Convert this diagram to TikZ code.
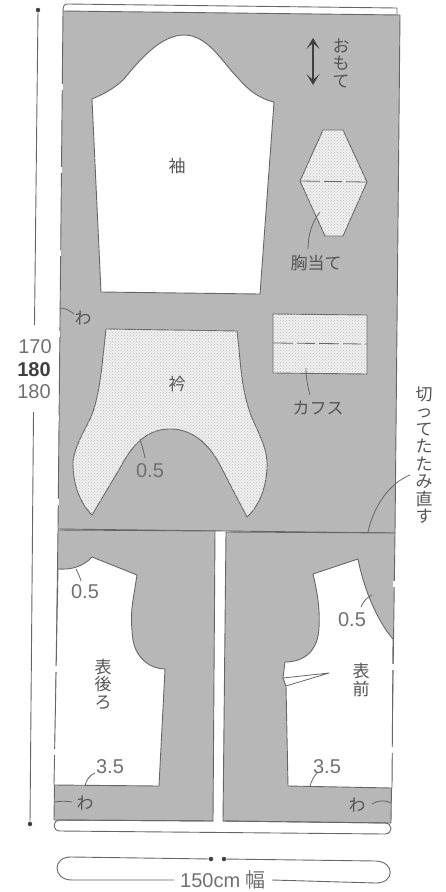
\documentclass[tikz,border=0pt]{standalone}
\usepackage{fontspec}
\setmainfont{Liberation Sans}
\newfontfamily\cjk{Noto Sans CJK JP}
\usetikzlibrary{arrows.meta,patterns}
\definecolor{sheet}{HTML}{B7B7B7}
\definecolor{ink}{HTML}{666666}
\definecolor{txt}{HTML}{555555}
\definecolor{numtxt}{HTML}{707070}
\definecolor{dotbg}{HTML}{EFEFEF}
\definecolor{dotfg}{HTML}{BDBDBD}
\tikzset{
  outline/.style={draw=ink,line width=0.9pt,line join=round},
  panel/.style={outline,fill=sheet},
  cutpiece/.style={outline,fill=white},
  dotpiece/.style={outline,fill=dotbg,postaction={pattern=crosshatch dots,pattern color=dotfg}},
  foldgap/.style={draw=white,line width=1.6pt},
  leader/.style={draw=ink,line width=0.8pt},
  dim/.style={draw=ink,line width=0.9pt},
  dimdot/.style={fill=black!75,circle,inner sep=0pt,minimum size=4.5pt},
  num/.style={text=numtxt,font=\fontsize{20}{22}\selectfont,inner sep=0pt},
  jp/.style={text=txt,font=\cjk\fontsize{17}{17.5}\selectfont,inner sep=0pt,align=center},
  foldline/.style={draw=ink,line width=0.8pt,dash pattern=on 20pt off 4pt on 18pt off 4pt},
}
\begin{document}
\begin{tikzpicture}[x=1pt,y=-1pt]
\useasboundingbox (0,0) rectangle (446,892);
% top band
\draw[outline,fill=white] (63,11) .. controls (63,6) and (64,4) .. (68,4) -- (397,8) -- (397,15);
% upper sheet
\path[panel] (63,11) -- (400,15) -- (395,533) -- (58,529) -- cycle;
% lower panels
\path[panel] (58,530) -- (215,531) -- (213,821) -- (54,820) -- cycle;
\path[panel] (226,532) -- (395,533) -- (391,823) -- (223,821) -- cycle;
% bottom band
\draw[outline] (213,821) -- (60,820) .. controls (52,820) and (52,831) .. (60,831) -- (385,834) .. controls (393,834) and (393,823) .. (385,823) -- (223,821);
% fold gaps upper-left edge
\foreach \yy/\xx in {87/61.8,170/61,253/60.2,334/59.3,418/58.6,502/58.0}
  \draw[foldgap] (\xx,\yy-3) -- (\xx,\yy+3);
% sleeve
\path[cutpiece] (92,99) .. controls (104,94) and (115,88) .. (124,79)
  .. controls (138,62) and (160,35) .. (184,35)
  .. controls (208,35) and (222,62) .. (238,78)
  .. controls (248,90) and (260,99) .. (274,102)
  -- (260,294) -- (101,292) -- cycle;
% bib
\path[dotpiece] (323,130) -- (343,130) -- (367,182) -- (343,236) -- (325,236) -- (300,181) -- cycle;
\draw[foldline] (300,181) -- (367,182);
% cuff
\path[dotpiece] (273,314) -- (367,315) -- (367,374) -- (273,373) -- cycle;
\draw[foldline] (273,343) -- (367,344);
% collar
\path[dotpiece] (106,329) -- (237,331)
  .. controls (241,365) and (241,390) .. (252,418)
  .. controls (262,440) and (268,452) .. (267,468)
  .. controls (266,490) and (258,507) .. (247,517)
  -- (220,465) .. controls (208,442) and (190,428) .. (168,429)
  .. controls (146,430) and (132,445) .. (120,468)
  -- (92,515) .. controls (80,503) and (73,485) .. (73,463)
  .. controls (74,447) and (84,432) .. (91,417)
  .. controls (100,395) and (102,365) .. (106,329) -- cycle;
% back bodice
\path[cutpiece] (58,569) .. controls (72,570) and (84,566) .. (92,557)
  -- (137,575) -- (133,600) .. controls (131,612) and (131,625) .. (133,640)
  .. controls (136,658) and (150,669) .. (165,669)
  -- (159,786) -- (54,785) -- cycle;
% front bodice
\path[cutpiece] (313,574) -- (358,559)
  .. controls (364,590) and (378,622) .. (393,639)
  -- (392,788) -- (288,786) -- (286,686) -- (283,678) -- (285,662)
  .. controls (305,662) and (318,650) .. (319,628)
  .. controls (320,610) and (318,595) .. (313,574) -- cycle;
\draw[outline,line width=0.8pt] (283,678) -- (329,673) -- (286,686);
% fold gaps on pieces
\foreach \yy/\xx in {669/56,752/55}
  \draw[foldgap] (\xx,\yy-3) -- (\xx,\yy+3);
\foreach \yy/\xx in {584/394,667/393,750/392}
  \draw[foldgap] (\xx,\yy-3) -- (\xx,\yy+3);
% arrow
\draw[draw=black!75,line width=1.6pt,{Stealth[length=11pt,width=13pt,inset=6pt]}-{Stealth[length=11pt,width=13pt,inset=6pt]}] (313,38) -- (313,85);
% labels
\node[jp] (omote) at (341,63) {お\\も\\て};
\node[jp] (sode) at (177,166) {袖};
\node[jp] (muneate) at (316,263) {胸当て};
\node[jp] (wa1) at (83,318) {わ};
\node[jp] (eri) at (177,384) {衿};
\node[jp] (cuffs) at (318,408) {カフス};
\node[num] (n1) at (150,471) {0.5};
\node[jp] (cut) at (424,455) {切\\っ\\て\\た\\た\\み\\直\\す};
\node[num] (n2) at (85,592) {0.5};
\node[num] (n3) at (352,620) {0.5};
\node[jp] (ushiro) at (103,684) {表\\後\\ろ};
\node[jp] (mae) at (361,680) {表\\前};
\node[num] (n4) at (110,767) {3.5};
\node[num] (n5) at (327,767) {3.5};
\node[jp] (wa2) at (85,803) {わ};
\node[jp] (wa3) at (357,805) {わ};
\node[num] (d170) at (35,347) {170};
\node[num,text=black!75,font=\bfseries\fontsize{20}{22}\selectfont] (d180a) at (34,370) {180};
\node[num] (d180b) at (34,392) {180};
\node[num,inner xsep=6pt,font=\fontsize{20}{22}\selectfont] (width) at (223,880) {150cm \cjk 幅};
% leader anchors
\coordinate (lw1) at (60,308);
\coordinate (lbib) at (320,212);
\coordinate (lcuff) at (306,368);
\coordinate (lcol) at (140,439);
\coordinate (lcut) at (368,532);
\coordinate (lback) at (76,569);
\coordinate (lfront) at (372,595);
\coordinate (l35a) at (85,786);
\coordinate (l35b) at (310,787);
\coordinate (lw2) at (54,802);
\coordinate (lw3) at (391,803);
\draw[leader] (lw1) .. controls (66,308) and (70,311) .. (74,314);
\draw[leader] (lbib) .. controls (312,222) and (308,235) .. (308,249);
\draw[leader] (lcuff) .. controls (306,378) and (308,388) .. (310,395);
\draw[leader] (lcol) .. controls (142,446) and (144,452) .. (145,458);
\draw[leader] (lcut) .. controls (374,505) and (390,483) .. (410,475);
\draw[leader] (lback) .. controls (78,573) and (80,577) .. (81,581);
\draw[leader] (lfront) .. controls (367,597) and (363,602) .. (361,607);
\draw[leader] (l35a) .. controls (86,780) and (90,775) .. (95,773);
\draw[leader] (l35b) .. controls (311,781) and (314,776) .. (317,773);
\draw[leader] (lw2) .. controls (60,801) and (66,801) .. (72,802);
\draw[leader] (lw3) .. controls (385,800) and (378,800) .. (372,804);
% height dimension
\node[dimdot] (top) at (38,10) {};
\node[dimdot] (bot) at (30,824) {};
\coordinate (hgapa) at (34.5,325);
\coordinate (hgapb) at (33.5,412);
\draw[dim] (top) -- (hgapa);
\draw[dim] (hgapb) -- (bot);
% width dimension
\node[dimdot] (wl) at (211,859) {};
\node[dimdot] (wr) at (224,859) {};
\draw[dim] (wl) -- (72,857) .. controls (52,856) and (52,880) .. (72,880) -- (width.west);
\draw[dim] (wr) -- (376,861) .. controls (395,862) and (395,883) .. (376,883) -- (width.east);
\end{tikzpicture}
\end{document}
